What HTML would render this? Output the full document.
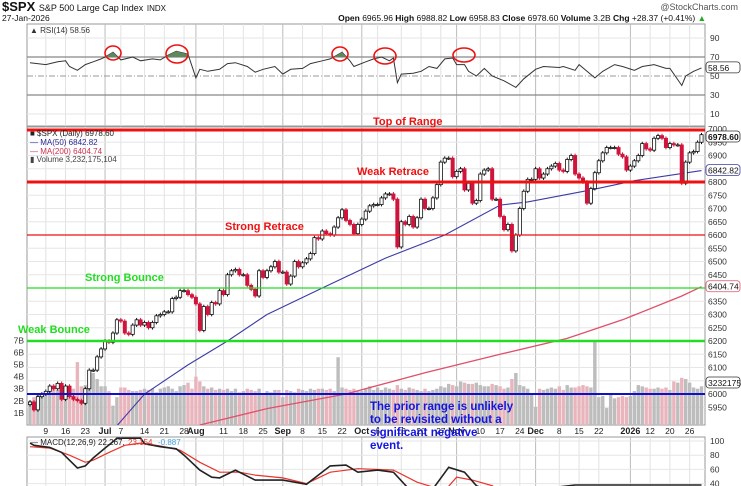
<!DOCTYPE html>
<html><head><meta charset="utf-8"><style>
body{margin:0;background:#fff;}
svg{display:block;font-family:"Liberation Sans",sans-serif;}
</style></head><body>
<svg id="c" width="741" height="486" viewBox="0 0 741 486" xmlns="http://www.w3.org/2000/svg">
<rect width="741" height="486" fill="#fff"/>
<text x="2" y="11" font-size="13" font-weight="bold" fill="#111">$SPX <tspan font-size="9" font-weight="normal">S&amp;P 500 Large Cap Index</tspan> <tspan font-size="8" font-weight="normal">INDX</tspan></text>
<text x="738" y="10" font-size="9" fill="#555" text-anchor="end">@StockCharts.com</text>
<text x="2" y="21" font-size="8.5" fill="#111">27-Jan-2026</text>
<text x="706" y="21" font-size="8.5" fill="#111" text-anchor="end"><tspan font-weight="bold">Open</tspan> 6965.96 <tspan font-weight="bold">High</tspan> 6988.82 <tspan font-weight="bold">Low</tspan> 6958.83 <tspan font-weight="bold">Close</tspan> 6978.60 <tspan font-weight="bold">Volume</tspan> 3.2B <tspan font-weight="bold">Chg</tspan> +28.37 (+0.41%) <tspan fill="#2a2">▲</tspan></text>
<g id="grid"></g>
<g id="marks"></g>
<g id="ann"></g>
</svg>
<script>
const closes=[5970,5940,5990,6000,
6010,6030,6020,6040,5980, 6030,5990,5980,5975,5965, 6020,6090,6090,6140,6170, 6200,6195,6230,6280,6275,
6230,6225,6260,6280,6260, 6270,6250,6270,6295,6300, 6310,6310,6360,6365,6390, 6390,6375,6365,6340,6240,
6330,6300,6345,6340,6390, 6375,6450,6465,6470,6450, 6450,6410,6395,6370,6465, 6440,6465,6480,6500,6460,
6460,6415,6445,6500,6480, 6495,6510,6530,6590,6585, 6615,6605,6600,6630,6665, 6695,6655,6640,6605,6640,
6660,6690,6710,6715,6715, 6740,6755,6755,6735,6555, 6650,6640,6670,6630,6665, 6735,6700,6700,6740,6790,
6875,6890,6890,6820,6840, 6850,6770,6795,6720,6730, 6830,6845,6850,6735,6735, 6670,6620,6640,6540,6600,
6700,6765,6810,6810,6850, 6815,6830,6850,6860,6870, 6845,6840,6885,6900,6830, 6815,6800,6720,6775,6835,
6880,6910,6930,6930,6930, 6905,6895,6845,6860,6880, 6900,6945,6925,6920,6965, 6975,6965,6930,6945,6940,
6940,6795,6875,6910,6915, 6950,6978.6];
const volumes=[2.0,2.3,2.6,2.5,
2.8,3.0,3.2,2.9,3.1, 2.7,2.9,3.0,5.2,3.2, 3.3,3.0,4.3,3.8,3.2, 3.2,2.8,1.6,2.3,3.1,
3.1,2.9,2.8,2.8,2.9, 3.0,2.9,3.0,2.7,3.0, 3.1,3.2,3.0,2.8,3.2, 3.3,3.5,3.0,4.0,3.6,
3.2,3.0,3.1,2.9,3.0, 2.9,3.0,2.8,3.0,2.7, 2.8,3.0,2.9,2.8,3.0, 2.6,2.8,2.7,2.9,2.9,
2.3,2.9,2.8,2.7,3.0, 2.9,2.8,3.0,2.9,3.0, 3.0,2.9,3.0,2.8,5.6, 3.1,3.0,2.9,3.0,2.8,
2.8,3.0,3.2,2.9,3.1, 2.9,3.1,3.0,2.9,3.3, 3.0,2.9,3.1,3.0,2.9, 2.8,3.0,2.8,2.9,3.0,
3.2,3.1,3.4,3.3,3.2, 3.6,3.5,3.4,3.4,3.5, 3.3,3.2,3.2,3.4,3.3, 3.2,3.0,3.1,3.8,4.3,
3.3,3.2,3.0,2.5,1.5, 3.0,2.9,3.0,3.1,3.0, 3.2,2.9,3.3,3.1,3.1, 3.2,3.3,3.2,3.1,7.0,
2.3,2.4,1.4,2.5,2.2, 2.3,2.4,2.3,2.4,2.8, 3.3,3.2,3.1,3.0,3.0, 3.1,3.0,3.1,2.9,3.6,
3.5,3.9,3.8,3.5,3.1, 3.0,3.2];
const ma50Idx=[22,29,40,50,60,74,90,105,119,126,142,153,170];
const ma50Val=[5880,6000,6110,6200,6300,6400,6513,6600,6713,6725,6770,6805,6843];
const ma200Idx=[43,60,80,100,119,136,150,165,170];
const ma200Val=[5883,5945,6000,6080,6150,6210,6280,6370,6405];
const rsiIdx=[0,4,7,9,10,11,12,14,16,18,19,21,23,25,26,28,31,33,35,37,40,42,43,45,48,50,52,55,57,59,62,64,66,69,71,74,76,79,81,82,85,87,89,91,92,93,94,97,99,101,103,105,107,108,110,111,113,115,117,120,123,125,128,130,134,135,138,139,143,145,148,150,153,155,158,161,162,165,166,168,170];
const rsiVal=[64,62,65,66,60,58,56,62,65,68,70,75,67,69,70,66,68,67,72,76,73,48,57,55,57,63,64,60,54,57,60,52,57,58,63,66,68,75,66,60,65,68,70,66,69,43,52,53,55,60,58,68,69,62,62,55,50,58,50,45,38,47,57,60,59,60,56,62,48,55,62,60,56,60,62,58,58,40,50,55,58.56];
const macdIdx=[0,1,5,8,10,12,14,16,19,21,22,28,29,33,37,39,43,46,48,52,57,64,70,76,80,83,88,92,96,101,106,110,113,118,138,160,170];
const macdVal=[97,94,91,84,73,62,65,76,90,99,104,104,96,92,89,80,59,49,48,59,45,45,39,65,66,56,59,56,32,25,63,56,37,25,38,38,38];
const sigIdx=[0,5,10,14,16,20,24,28,33,38,43,48,53,57,64,70,76,83,92,98,105,108,112,117,119,134,170];
const sigVal=[92,90,80,70,73,84,94,97,93,87,70,56,56,52,48,40,56,61,59,42,30,49,45,37,30,25,28];
const priceTicks=[7000,6950,6900,6850,6800,6750,6700,6650,6600,6550,6500,6450,6400,6350,6300,6250,6200,6150,6100,6050,6000,5950];
const volTicks=[1,2,3,4,5,6,7];
const rsiTicks=[90,70,50,30,10];
const macdTicks=[100,80,60,40];
const dateLabels=["9","16","23","Jul","7","14","21","28","Aug","11","18","25","Sep","8","15","22","Oct","6","13","20","27","Nov","10","17","24","Dec","8","15","22","2026","12","20","26"];
const dateIdx=[4,9,14,19,23,29,34,39,42,49,54,59,64,69,74,79,84,88,94,99,104,108,114,119,124,128,134,139,144,152,157,162,167];
const monthLabels=["Jul","Aug","Sep","Oct","Nov","Dec","2026"];

const NS="http://www.w3.org/2000/svg";
const L=27,R=705;
const X=i=>30+3.95*i;
const PY=p=>129+(7000-p)*0.265;
const VY=v=>425-v*12.1;
const RY=v=>76-(v-50)*0.95;
const MY=v=>441+(100-v)*0.71;
function mk(tag,attrs,parent){const e=document.createElementNS(NS,tag);for(const k in attrs)e.setAttribute(k,attrs[k]);(parent||document.getElementById('marks')).appendChild(e);return e;}
const grid=document.getElementById('grid'),marks=document.getElementById('marks'),ann=document.getElementById('ann');

// panels
let p;
p=mk('rect',{x:L,y:24,width:R-L,height:102,fill:'none',stroke:'#999'},grid);


p=mk('rect',{x:L,y:127,width:R-L,height:298,fill:'none',stroke:'#999'},grid);


p=mk('rect',{x:L,y:437,width:R-L,height:60,fill:'none',stroke:'#999'},grid);



// clip paths
const defs=mk('defs',{},document.getElementById('c'));
const cp=mk('clipPath',{id:'pc'},defs);mk('rect',{x:L,y:127,width:R-L,height:298},cp);
const cm=mk('clipPath',{id:'mc'},defs);mk('rect',{x:L,y:437,width:R-L,height:60},cm);

// vertical grid
dateIdx.forEach((d,k)=>{
  const isM=monthLabels.includes(dateLabels[k]);
  [[24,126],[127,425],[437,486]].forEach(([a,b])=>{
    const g=mk('line',{x1:X(d),x2:X(d),y1:a,y2:b,stroke:isM?'#bbb':'#e2e2e2','stroke-width':1},grid);
    
    
  });
  const t=mk('text',{x:X(d),y:434,'font-size':isM?9:8.5,'font-weight':isM?'bold':'normal','text-anchor':'middle',fill:'#222'},grid);
  t.textContent=dateLabels[k];
  
  
});
// price ticks
priceTicks.forEach(v=>{
  const g=mk('line',{x1:L,x2:R,y1:PY(v),y2:PY(v),stroke:'#e6e6e6'},grid);
  
  
  const t=mk('text',{x:708,y:PY(v)+3,'font-size':8.5,fill:'#333'},grid);
  t.textContent=v;
  
  
});
volTicks.forEach(v=>{
  const t=mk('text',{x:24,y:VY(v)+3,'font-size':8.5,fill:'#333','text-anchor':'end'},grid);
  t.textContent=v+'B';
  
  
});
rsiTicks.forEach(v=>{
  if(v==70||v==30){const g=mk('line',{x1:L,x2:R,y1:RY(v),y2:RY(v),stroke:'#888','stroke-width':1.2},grid);}
  else if(v==50){const g=mk('line',{x1:L,x2:R,y1:RY(v),y2:RY(v),stroke:'#999','stroke-dasharray':'6,2,1,2'},grid);}
  else {const g=mk('line',{x1:L,x2:R,y1:RY(v),y2:RY(v),stroke:'#e6e6e6'},grid);}
  const t=mk('text',{x:710,y:RY(v)+3,'font-size':8.5,fill:'#333'},grid);
  t.textContent=v;
  
  
});
macdTicks.forEach(v=>{
  const g=mk('line',{x1:L,x2:R,y1:MY(v),y2:MY(v),stroke:'#e6e6e6'},grid);
  
  
  const t=mk('text',{x:710,y:MY(v)+3,'font-size':8.5,fill:'#333'},grid);
  t.textContent=v;
  
  
});

// volume
const vg=mk('g',{'clip-path':'url(#pc)'},marks);
volumes.forEach((v,i)=>{
  const down=i>0&&closes[i]<closes[i-1];
  const b=mk('rect',{x:X(i)-1.7,y:VY(v),width:3.4,height:v*12.1,fill:down?'#e8b5bd':'#bdbdbd'},vg);
  
  
});
// MAs
function poly(ix,vals,fy,col,w,par,name){
  const pts=ix.map((d,k)=>X(d).toFixed(1)+','+fy(vals[k]).toFixed(1)).join(' ');
  const e=mk('polyline',{points:pts,fill:'none',stroke:col,'stroke-width':w},par);
  
  
  return e;
}
poly(ma50Idx,ma50Val,PY,'#3c3ca8',1.1,vg,'ma50-line');
poly(ma200Idx,ma200Val,PY,'#e0506a',1.3,vg,'ma200-line');
// candles
closes.forEach((c,i)=>{
  const o=i>0?closes[i-1]:5960;
  const hi=Math.max(o,c)+7,lo=Math.min(o,c)-7;
  const up=c>=o;
  const w=mk('line',{x1:X(i),x2:X(i),y1:PY(hi),y2:PY(lo),stroke:up?'#111':'#d0143c','stroke-width':1},vg);
  
  
  const y1=PY(Math.max(o,c)),h=Math.max(1,Math.abs(PY(o)-PY(c)));
  const b=mk('rect',{x:X(i)-1.6,y:y1,width:3.2,height:h,fill:up?'#fff':'#d0143c',stroke:up?'#111':'#d0143c','stroke-width':0.8},vg);
  
  
});
// RSI
const rsiPts=rsiIdx.map((d,k)=>X(d).toFixed(1)+','+RY(rsiVal[k]).toFixed(1));
const rl=mk('polyline',{points:rsiPts.join(' '),fill:'none',stroke:'#333','stroke-width':1},marks);


// overbought fill
const ob=mk('clipPath',{id:'ob'},defs);mk('rect',{x:L,y:24,width:R-L,height:RY(70)-24},ob);
const of=mk('polygon',{points:rsiPts.join(' ')+' '+X(170)+','+RY(70)+' '+X(0)+','+RY(70),fill:'#5d8a5d','clip-path':'url(#ob)'},marks);


// MACD
const mg=mk('g',{'clip-path':'url(#mc)'},marks);
poly(sigIdx,sigVal,MY,'#e8342c',1.2,mg,'macd-signal-line');
poly(macdIdx,macdVal,MY,'#222',1.6,mg,'macd-line');

// annotations
function hline(y,col,w,name){const e=mk('line',{x1:L,x2:R,y1:y,y2:y,stroke:col,'stroke-width':w},ann);}
function label(x,y,txt,col,name,size){const e=mk('text',{x:x,y:y,fill:col,'font-size':size||11,'font-weight':'bold'},ann);e.textContent=txt;}
hline(PY(7000)+1,'#ee1111',3,'top-of-range-line');
hline(PY(6800),'#ee1111',3,'weak-retrace-line');
hline(PY(6600),'#ee1111',1.2,'strong-retrace-line');
hline(PY(6400),'#22dd22',1.2,'strong-bounce-line');
hline(PY(6200),'#22dd22',2.5,'weak-bounce-line');
hline(394,'#1010cc',2,'prior-range-line');
label(373,125,'Top of Range','#ee1111','top-of-range-label');
label(357,175,'Weak Retrace','#ee1111','weak-retrace-label');
label(225,230,'Strong Retrace','#ee1111','strong-retrace-label');
label(85,281,'Strong Bounce','#22dd22','strong-bounce-label');
label(18,333,'Weak Bounce','#22dd22','weak-bounce-label');
label(370,410,'The prior range is unlikely','#1515e0','prior-range-note',11.5);
label(370,423,'to be revisited without a','#1515e0','prior-range-note',11.5);
label(370,436,'significant negative','#1515e0','prior-range-note',11.5);
label(370,449,'event.','#1515e0','prior-range-note',11.5);
[[113,53,8,7],[177,54,11,9],[340,54,8,7],[385,56,11,8],[464,55,11,7]].forEach(c=>{
  const e=mk('ellipse',{cx:c[0],cy:c[1],rx:c[2],ry:c[3],fill:'none',stroke:'#ee1111','stroke-width':1.6},ann);
  
  
});
// legends
function leg(x,y,txt,col,name){const e=mk('text',{x:x,y:y,'font-size':8,fill:col},ann);e.textContent=txt;}
leg(30,33,'▲ RSI(14) 58.56','#333','rsi-legend');
leg(30,136,'■ $SPX (Daily) 6978.60','#222','price-legend');
leg(30,145,'— MA(50) 6842.82','#2a2a99','ma50-legend');
leg(30,154,'— MA(200) 6404.74','#d03050','ma200-legend');
leg(30,162,'▮ Volume 3,232,175,104','#444','volume-legend');
leg(30,445,'— MACD(12,26,9) 22.267, ','#222','macd-legend');
leg(128,445,'23.154,','#e8342c','macd-legend-signal');
leg(158,445,'-0.887','#4aa0d8','macd-legend-hist');
// value boxes
function vbox(y,txt,col,bold,name){
  const r=mk('rect',{x:706,y:y-6,width:34,height:11,rx:3,fill:'#fff',stroke:col,'stroke-width':0.8},ann);
  
  
  const t=mk('text',{x:708,y:y+3,'font-size':8.5,fill:'#111','font-weight':bold?'bold':'normal'},ann);
  t.textContent=txt;
  
  
}
vbox(RY(58.56),'58.56','#333',false,'rsi-value');
vbox(137,'6978.60','#333',true,'close-value');
vbox(PY(6842.82),'6842.82','#3c3ca8',false,'ma50-value');
vbox(PY(6404.74),'6404.74','#e0506a',false,'ma200-value');
vbox(383,'3232175','#333',false,'volume-value');
</script>
</body></html>
